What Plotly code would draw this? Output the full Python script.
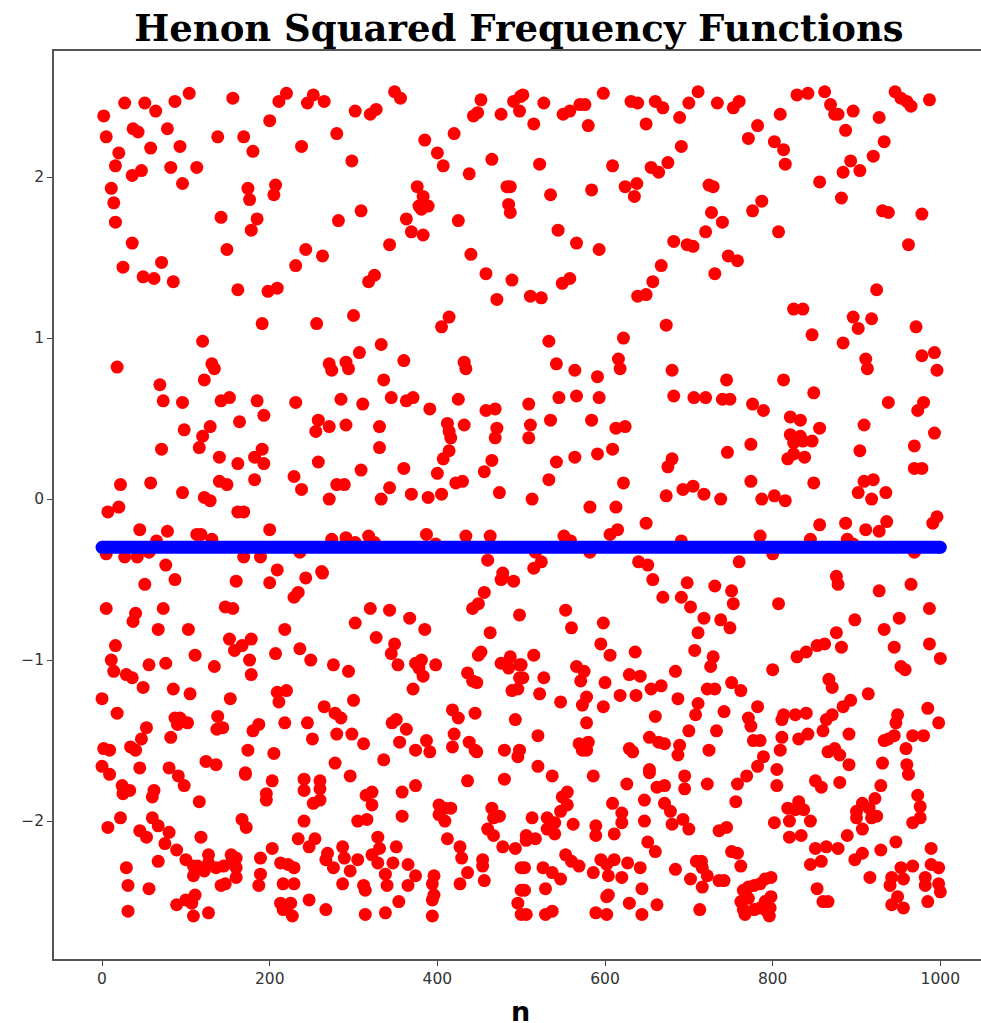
import plotly.graph_objects as go

title_text = "Henon Squared Frequency Functions"
x_label = "n"
x_ticks = [0, 200, 400, 600, 800, 1000]
y_ticks = [-2, -1, 0, 1, 2]

# Horizontal reference series, constant value
blue_n = [0, 50, 100, 150, 200, 250, 300, 350, 400, 450, 500, 550, 600, 650, 700, 750, 800, 850, 900, 950, 1000]
blue_y = [-0.3] * len(blue_n)

upper_a_n = [2,27,51,64,87,104,156,220,211,200,252,245,265,302,327,320,349,356,452,491,499,498,476,448,443,420,385,400,407,438,465,376,383,389,378,381,363,369,383,343,425,483,487,485,487,440,458,489,471,5,37,43,78,20,58,93,16,47,36,82,113,96,11,14,16,36,71,25,49,62,85,138,169,180,238,280,298,174,207,205,176,142,185,178,149,309,282,243,263,231,325,318,162,198,209]
upper_a_y = [2.38,2.46,2.46,2.41,2.47,2.52,2.49,2.52,2.47,2.35,2.51,2.46,2.47,2.41,2.42,2.39,2.53,2.49,2.48,2.47,2.50,2.41,2.39,2.40,2.38,2.27,2.23,2.15,2.07,2.02,2.11,1.94,1.88,1.82,1.82,1.80,1.74,1.66,1.64,1.58,1.73,1.94,1.94,1.83,1.78,1.52,1.40,1.36,1.24,2.25,2.30,2.28,2.30,2.15,2.18,2.19,2.07,2.04,2.01,2.06,2.06,1.96,1.93,1.84,1.72,1.59,1.47,1.44,1.38,1.37,1.35,2.25,2.25,2.16,2.19,2.27,2.10,1.93,1.95,1.89,1.86,1.75,1.74,1.67,1.55,1.79,1.73,1.55,1.51,1.45,1.39,1.35,1.30,1.29,1.31]

upper_b_n = [502,527,515,550,558,570,576,598,580,631,639,660,669,700,711,689,649,734,753,760,809,782,771,802,813,815,829,842,862,869,874,878,896,887,927,933,920,893,904,884,856,882,946,953,960,965,987,931,938,978,962,924,522,609,691,675,655,664,638,624,635,584,535,724,729,727,740,720,776,787,807,544,566,593,682,698,705,667,747,758,731,657,649,639,558,549,511,524]
upper_b_y = [2.51,2.46,2.33,2.39,2.41,2.45,2.45,2.52,2.32,2.47,2.46,2.47,2.43,2.46,2.53,2.37,2.33,2.46,2.43,2.47,2.39,2.32,2.24,2.22,2.17,2.08,2.51,2.52,2.53,2.45,2.39,2.39,2.41,2.29,2.37,2.22,2.13,2.10,2.04,2.03,1.97,1.87,2.53,2.49,2.47,2.44,2.48,1.79,1.78,1.77,1.58,1.30,2.08,2.07,2.19,2.09,2.06,2.03,1.96,1.94,1.88,1.92,1.89,1.95,1.94,1.78,1.72,1.66,1.79,1.85,1.66,1.67,1.59,1.55,1.60,1.58,1.57,1.45,1.51,1.48,1.40,1.35,1.27,1.26,1.37,1.34,1.26,1.25]

middle_a_n = [191,256,300,414,405,120,18,131,134,122,69,73,96,152,142,185,193,231,164,129,98,120,116,71,140,191,182,193,162,182,140,149,229,238,258,258,255,271,291,271,274,291,294,307,333,360,336,285,311,345,363,371,391,425,432,434,458,469,412,432,414,416,471,469,414,407,331,331,309,360,400,465,456,422,430,474,343,369,389,405,333,271,280,289,22,58,96,122,129,20,7,162,169,45,78,200,113,118,131,65,274,291,302,318,325,387,398,434,463,5,27,42,56,169,189,236,76,460,209,262,478]
middle_a_y = [1.09,1.09,1.14,1.13,1.07,0.98,0.82,0.84,0.81,0.74,0.71,0.61,0.60,0.63,0.61,0.61,0.52,0.60,0.48,0.45,0.43,0.39,0.32,0.31,0.26,0.31,0.26,0.22,0.22,0.12,0.11,0.09,0.14,0.06,0.23,0.49,0.42,0.45,0.46,0.84,0.80,0.85,0.81,0.91,0.96,0.86,0.74,0.62,0.59,0.63,0.61,0.63,0.56,0.62,0.85,0.81,0.55,0.56,0.47,0.46,0.42,0.38,0.44,0.38,0.30,0.25,0.45,0.32,0.18,0.19,0.16,0.24,0.17,0.10,0.11,0.04,0.07,0.03,0.01,0.03,0.00,0.00,0.09,0.09,0.09,0.10,0.04,0.01,-0.01,-0.05,-0.08,-0.08,-0.08,-0.19,-0.20,-0.19,-0.22,-0.22,-0.25,-0.26,-0.25,-0.24,-0.27,-0.23,-0.27,-0.22,-0.28,-0.23,-0.23,-0.34,-0.36,-0.36,-0.33,-0.36,-0.36,-0.33,-0.41,-0.38,-0.44,-0.45,-0.46]

middle_b_n = [673,533,622,616,618,542,564,591,545,566,593,509,511,509,535,584,613,624,609,591,564,542,533,513,622,582,613,649,615,606,551,559,680,682,706,720,740,749,745,776,789,813,849,847,825,836,884,896,918,902,911,913,971,978,993,996,938,980,973,993,969,909,904,969,978,909,920,902,935,918,849,856,821,833,821,833,825,836,847,825,818,838,774,746,680,675,673,693,705,718,738,774,787,802,815,936,911,927,887,856,845,889,896,785,691,996,991,517,582,800,969,524,515,640,651,760]
middle_b_y = [1.08,0.98,1.00,0.87,0.81,0.84,0.80,0.76,0.63,0.64,0.63,0.59,0.46,0.38,0.49,0.49,0.44,0.45,0.31,0.28,0.26,0.23,0.12,0.00,0.10,-0.05,-0.05,-0.15,-0.19,-0.22,-0.23,-0.26,0.80,0.64,0.63,0.63,0.62,0.62,0.74,0.59,0.55,0.74,0.66,1.02,1.18,1.18,0.97,1.13,1.12,1.06,0.87,0.81,1.07,0.89,0.91,0.80,0.60,0.60,0.55,0.41,0.33,0.46,0.30,0.19,0.19,0.11,0.12,0.04,0.04,0.00,0.10,0.44,0.51,0.49,0.40,0.39,0.35,0.36,0.36,0.28,0.25,0.26,0.34,0.29,0.25,0.20,0.02,0.06,0.08,0.03,0.00,0.11,0.00,0.02,-0.01,-0.14,-0.19,-0.20,-0.15,-0.16,-0.25,-0.25,-0.28,-0.23,-0.26,-0.11,-0.15,-0.33,-0.33,-0.34,-0.33,-0.39,-0.43,-0.39,-0.41,-0.39]

lower_a_n = [51,87,160,200,243,263,234,229,5,40,37,73,67,103,147,156,218,152,178,167,158,236,207,176,178,249,276,294,111,134,16,11,14,29,36,56,76,49,85,105,0,153,18,209,220,211,300,265,278,285,138,87,93,102,90,137,144,187,180,218,245,53,47,82,34,40,2,9,174,205,251,280,298,312,278,0,45,80,124,136,171,320,343,367,385,302,327,349,345,353,374,381,378,383,398,371,478,476,491,456,449,442,498,463,452,449,476,487,485,498,436,442,447,489,496,498,418,425,445,346,351,363,420,493,355,387,374,391,418,438,445,447,480,498,496,336]
lower_a_y = [-0.53,-0.50,-0.51,-0.52,-0.49,-0.46,-0.58,-0.61,-0.68,-0.71,-0.76,-0.68,-0.81,-0.81,-0.67,-0.68,-0.81,-0.87,-0.87,-0.91,-0.94,-0.93,-0.96,-1.00,-1.09,-1.00,-1.03,-1.07,-0.97,-1.04,-0.91,-1.00,-1.07,-1.09,-1.11,-1.03,-1.02,-1.17,-1.18,-1.21,-1.24,-1.24,-1.33,-1.20,-1.19,-1.26,-1.25,-1.29,-1.33,-1.36,-1.35,-1.36,-1.36,-1.39,-1.40,-1.43,-1.42,-1.40,-1.44,-1.39,-1.39,-1.42,-1.49,-1.48,-1.54,-1.56,-1.55,-1.56,-1.56,-1.58,-1.49,-1.46,-1.46,-1.52,-1.64,-1.66,-1.67,-1.67,-1.63,-1.65,-1.70,-0.68,-0.69,-0.74,-0.81,-0.77,-0.86,-0.90,-0.96,-1.03,-1.02,-1.00,-1.05,-1.10,-1.03,-1.18,-0.49,-0.50,-0.51,-0.58,-0.65,-0.68,-0.72,-0.83,-0.95,-0.97,-1.02,-0.98,-1.05,-1.03,-1.08,-1.13,-1.14,-1.19,-1.18,-1.11,-1.31,-1.36,-1.33,-1.39,-1.37,-1.43,-1.46,-1.37,-1.51,-1.50,-1.56,-1.57,-1.54,-1.51,-1.56,-1.57,-1.56,-1.56,-1.60,-1.62]

lower_b_n = [657,698,731,751,753,669,691,702,718,738,749,711,707,729,726,807,876,878,927,965,987,898,951,933,876,862,853,840,829,882,945,987,1000,953,958,800,867,871,914,893,884,871,864,827,840,813,811,782,771,774,985,998,949,947,891,860,842,831,811,809,777,785,789,782,805,874,866,880,891,931,960,967,980,945,938,933,959,515,500,502,527,522,547,553,560,598,595,606,636,566,575,571,600,629,642,684,667,655,751,762,722,731,687,711,708,742,578,573,618,637,598,660,578,520,700,733,653,664,671,689,687,724,569,580,573,578,629,633,520,653]
lower_b_y = [-0.50,-0.52,-0.54,-0.57,-0.65,-0.61,-0.61,-0.67,-0.74,-0.75,-0.80,-0.83,-0.94,-0.98,-1.04,-0.65,-0.48,-0.53,-0.57,-0.53,-0.68,-0.75,-0.74,-0.81,-0.83,-0.90,-0.91,-0.95,-0.98,-0.92,-0.92,-0.90,-0.99,-1.04,-1.06,-1.06,-1.12,-1.17,-1.21,-1.25,-1.29,-1.34,-1.37,-1.34,-1.33,-1.34,-1.37,-1.29,-1.36,-1.41,-1.30,-1.39,-1.34,-1.39,-1.46,-1.44,-1.46,-1.49,-1.48,-1.56,-1.50,-1.50,-1.60,-1.66,-1.68,-1.55,-1.57,-1.59,-1.65,-1.64,-1.65,-1.47,-1.47,-1.47,-1.49,-1.50,-1.55,-0.97,-1.03,-1.11,-1.11,-1.21,-1.26,-0.69,-0.80,-0.77,-0.90,-0.97,-0.95,-1.04,-1.07,-1.13,-1.14,-1.09,-1.10,-1.07,-1.16,-1.18,-1.14,-1.19,-1.18,-1.18,-1.24,-1.27,-1.34,-1.32,-1.23,-1.28,-1.22,-1.22,-1.29,-1.35,-1.39,-1.47,-1.44,-1.44,-1.48,-1.51,-1.52,-1.53,-1.59,-1.56,-1.52,-1.51,-1.56,-1.56,-1.55,-1.57,-1.66,-1.68]

bottom_a_n = [9,91,98,171,203,241,241,260,260,260,252,296,196,196,24,33,25,62,60,116,322,315,322,358,374,436,480,358,402,409,416,402,409,465,474,467,305,316,241,22,7,60,67,80,45,53,75,89,167,172,118,234,254,247,203,287,269,267,289,305,276,296,287,329,331,322,329,351,347,338,340,365,374,365,354,338,314,312,314,412,427,429,460,467,478,493,454,454,436,427,456,396,394,396,394,394,496,500,500,500,100,109,127,114,122,127,136,145,154,160,154,160,109,160,147,142,189,189,187,67,29,31,56,31,89,100,111,107,109,127,213,222,229,216,229,247,267,213,225,216,220,227]
bottom_a_y = [-1.71,-1.72,-1.78,-1.71,-1.75,-1.74,-1.81,-1.75,-1.80,-1.87,-1.89,-1.72,-1.83,-1.87,-1.78,-1.81,-1.83,-1.81,-1.85,-1.88,-1.82,-1.84,-1.90,-1.82,-1.78,-1.75,-1.74,-1.97,-1.90,-1.92,-1.92,-1.96,-2.00,-1.92,-1.97,-1.98,-2.00,-1.99,-2.00,-1.98,-2.04,-1.98,-2.03,-2.07,-2.06,-2.10,-2.14,-2.18,-1.99,-2.04,-2.10,-2.11,-2.11,-2.16,-2.17,-2.16,-2.20,-2.24,-2.23,-2.24,-2.29,-2.31,-2.39,-2.10,-2.17,-2.21,-2.26,-2.16,-2.26,-2.33,-2.40,-2.27,-2.34,-2.40,-2.50,-2.57,-2.58,-2.40,-2.43,-2.11,-2.16,-2.23,-2.05,-2.09,-2.16,-2.17,-2.24,-2.28,-2.32,-2.39,-2.37,-2.34,-2.39,-2.46,-2.49,-2.59,-2.51,-2.29,-2.43,-2.58,-2.24,-2.28,-2.21,-2.28,-2.31,-2.26,-2.29,-2.28,-2.21,-2.23,-2.26,-2.29,-2.34,-2.35,-2.39,-2.40,-2.23,-2.33,-2.40,-2.25,-2.29,-2.40,-2.42,-2.56,-2.52,-2.49,-2.46,-2.51,-2.59,-2.57,-2.26,-2.27,-2.29,-2.39,-2.39,-2.49,-2.55,-2.51,-2.51,-2.55,-2.54,-2.59]

bottom_b_n = [537,586,626,653,695,695,722,758,769,805,851,858,880,929,922,962,973,976,967,976,662,671,555,549,555,547,647,609,671,678,756,620,620,647,680,693,700,513,531,540,531,540,562,589,589,611,506,506,517,651,660,736,745,553,560,569,595,611,602,627,642,586,604,620,504,526,537,547,504,529,644,604,602,629,662,506,529,537,589,602,644,713,684,702,709,715,716,722,716,736,742,751,758,762,802,820,818,831,827,837,845,820,834,851,864,878,889,907,907,900,900,915,918,924,907,898,929,947,989,845,858,953,967,916,942,940,956,989,998,982,982,998,1000,853,860,866,985,949,942,956,798,791,785,778,771,765,798,791,797,771,762,765,767,778,785,793,796]
bottom_b_y = [-1.72,-1.72,-1.77,-1.70,-1.72,-1.80,-1.77,-1.77,-1.72,-1.78,-1.75,-1.79,-1.76,-1.78,-1.86,-1.71,-1.84,-1.91,-2.01,-1.98,-1.79,-1.78,-1.82,-1.85,-1.90,-1.94,-1.87,-1.89,-1.89,-1.94,-1.88,-1.95,-2.01,-2.00,-2.02,-1.99,-2.05,-1.98,-1.98,-2.01,-2.05,-2.08,-2.02,-2.03,-2.09,-2.08,-2.09,-2.12,-2.11,-2.13,-2.19,-2.06,-2.04,-2.21,-2.25,-2.28,-2.24,-2.24,-2.27,-2.26,-2.29,-2.32,-2.34,-2.35,-2.29,-2.29,-2.32,-2.36,-2.43,-2.42,-2.42,-2.46,-2.47,-2.51,-2.52,-2.58,-2.58,-2.56,-2.57,-2.58,-2.58,-2.55,-2.30,-2.36,-2.25,-2.25,-2.29,-2.34,-2.41,-2.37,-2.37,-2.19,-2.20,-2.28,-2.01,-2.00,-1.92,-1.88,-1.93,-1.93,-2.00,-2.10,-2.09,-2.17,-2.16,-2.17,-2.09,-2.05,-1.89,-1.94,-1.98,-1.92,-1.98,-1.97,-2.20,-2.24,-2.18,-2.13,-2.17,-2.27,-2.25,-2.29,-2.28,-2.35,-2.35,-2.40,-2.36,-2.27,-2.29,-2.35,-2.40,-2.39,-2.44,-2.42,-2.50,-2.50,-2.50,-2.47,-2.52,-2.54,-2.35,-2.36,-2.39,-2.40,-2.41,-2.43,-2.47,-2.50,-2.54,-2.48,-2.50,-2.55,-2.58,-2.55,-2.54,-2.56,-2.59]

red_n = upper_a_n + upper_b_n + middle_a_n + middle_b_n + lower_a_n + lower_b_n + bottom_a_n + bottom_b_n
red_y = upper_a_y + upper_b_y + middle_a_y + middle_b_y + lower_a_y + lower_b_y + bottom_a_y + bottom_b_y

fig = go.Figure()
fig.add_trace(go.Scatter(x=red_n, y=red_y, mode="markers",
                         marker=dict(color="#ff0000", size=13, line=dict(width=0)), cliponaxis=True))
fig.add_trace(go.Scatter(x=blue_n, y=blue_y, mode="lines",
                         line=dict(color="#0000ff", width=13)))
fig.add_trace(go.Scatter(x=[blue_n[0], blue_n[-1]], y=[blue_y[0], blue_y[-1]], mode="markers",
                         marker=dict(color="#0000ff", size=13, line=dict(width=0))))

axis_common = dict(showgrid=False, zeroline=False, showline=True, linecolor="#555555", linewidth=1.5,
                   ticks="outside", ticklen=5, tickwidth=1.2, tickcolor="#444444",
                   tickfont=dict(family="DejaVu Sans", size=15.5, color="#333333"))

fig.update_layout(
    width=981, height=1023, autosize=False, showlegend=False,
    paper_bgcolor="white", plot_bgcolor="white",
    margin=dict(l=54, r=0, t=51, b=64),
    title=dict(text="<b>%s</b>" % title_text, font=dict(family="DejaVu Serif", size=37, color="black"),
               x=0.529, xanchor="center", y=0.973, yanchor="middle"),
    xaxis=dict(range=[-57.3, 1048.5], tickvals=x_ticks, mirror=True, **axis_common),
    yaxis=dict(range=[-2.857, 2.783], tickvals=y_ticks, **axis_common),
    annotations=[dict(text="<b>%s</b>" % x_label, xref="paper", yref="paper", x=0.5027, y=-0.0573,
                      xanchor="center", yanchor="middle", showarrow=False,
                      font=dict(family="DejaVu Sans", size=27, color="black"))],
)
fig.write_html("out.html", config={"displayModeBar": False}, post_script="document.body.style.margin='0';")
